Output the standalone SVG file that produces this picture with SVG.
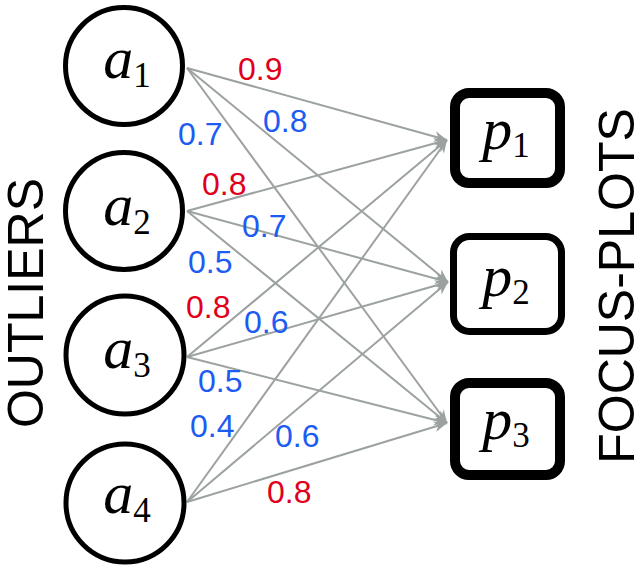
<svg xmlns="http://www.w3.org/2000/svg" width="638" height="567" viewBox="0 0 638 567">
<style>
.node{fill:#fff;stroke:#000}
.math{font-family:"Liberation Serif","Times New Roman",serif;font-style:italic;font-size:60px;fill:#000}
.sub{font-style:normal;font-size:35px}
.edge{stroke:#9ba2a0;stroke-width:2;fill:none;marker-end:url(#arr)}
.lbl{font-family:"Liberation Sans",Arial,sans-serif;font-size:32px}
.r{fill:#e0001b}
.b{fill:#1c5cf2}
.side{font-family:"Liberation Sans",Arial,sans-serif;font-size:50px;fill:#000}
</style>
<defs>
<marker id="arr" markerUnits="userSpaceOnUse" markerWidth="16" markerHeight="12" viewBox="-14 -6 16 12" refX="0" refY="0" orient="auto">
<path d="M0,0 L-13,-5.5 L-9,0 L-13,5.5 Z" fill="#9ba2a0"/>
</marker>
</defs>
<rect width="638" height="567" fill="#fff"/>
<g id="connectors">
<line class="edge" x1="187" y1="68" x2="447" y2="140"/>
<line class="edge" x1="187" y1="68" x2="448" y2="282"/>
<line class="edge" x1="187" y1="68" x2="447" y2="423"/>
<line class="edge" x1="187" y1="211" x2="447" y2="140"/>
<line class="edge" x1="187" y1="211" x2="448" y2="282"/>
<line class="edge" x1="187" y1="211" x2="447" y2="423"/>
<line class="edge" x1="187" y1="357" x2="447" y2="140"/>
<line class="edge" x1="187" y1="357" x2="448" y2="282"/>
<line class="edge" x1="187" y1="357" x2="447" y2="423"/>
<line class="edge" x1="187" y1="502" x2="447" y2="140"/>
<line class="edge" x1="187" y1="502" x2="448" y2="282"/>
<line class="edge" x1="187" y1="502" x2="447" y2="423"/>
</g>
<g id="edge-labels">
<text class="lbl r" x="238" y="80">0.9</text>
<text class="lbl b" x="263" y="132">0.8</text>
<text class="lbl b" x="178" y="145">0.7</text>
<text class="lbl r" x="202" y="195">0.8</text>
<text class="lbl b" x="242" y="237">0.7</text>
<text class="lbl b" x="188" y="273">0.5</text>
<text class="lbl r" x="186" y="318">0.8</text>
<text class="lbl b" x="244" y="333">0.6</text>
<text class="lbl b" x="198" y="392">0.5</text>
<text class="lbl b" x="190" y="437">0.4</text>
<text class="lbl b" x="275" y="447">0.6</text>
<text class="lbl r" x="267" y="503">0.8</text>
</g>
<g id="a1"><circle class="node" cx="124" cy="66" r="58.5" stroke-width="5"/><text class="math" x="127" y="78" text-anchor="middle">a<tspan class="sub" dy="9">1</tspan></text></g>
<g id="a2"><circle class="node" cx="124" cy="211" r="58.5" stroke-width="5"/><text class="math" x="127" y="225" text-anchor="middle">a<tspan class="sub" dy="9">2</tspan></text></g>
<g id="a3"><circle class="node" cx="125" cy="355" r="59" stroke-width="5"/><text class="math" x="127" y="368" text-anchor="middle">a<tspan class="sub" dy="9">3</tspan></text></g>
<g id="a4"><circle class="node" cx="125" cy="503" r="59" stroke-width="5"/><text class="math" x="127" y="513" text-anchor="middle">a<tspan class="sub" dy="9">4</tspan></text></g>
<g id="p1"><rect class="node" x="455" y="93" width="105" height="90" rx="14" stroke-width="10"/><text class="math" x="506" y="149" text-anchor="middle">p<tspan class="sub" dy="8">1</tspan></text></g>
<g id="p2"><rect class="node" x="453.5" y="236.5" width="108" height="95" rx="16" stroke-width="7"/><text class="math" x="506" y="296" text-anchor="middle">p<tspan class="sub" dy="8">2</tspan></text></g>
<g id="p3"><rect class="node" x="455" y="383" width="105" height="92" rx="14" stroke-width="10"/><text class="math" x="506" y="439" text-anchor="middle">p<tspan class="sub" dy="8">3</tspan></text></g>
<g id="outliers"><text class="side" transform="translate(43,303) rotate(-90)" text-anchor="middle">OUTLIERS</text></g>
<g id="focus-plots"><text class="side" transform="translate(634,286) rotate(-90)" text-anchor="middle">FOCUS-PLOTS</text></g>
</svg>
